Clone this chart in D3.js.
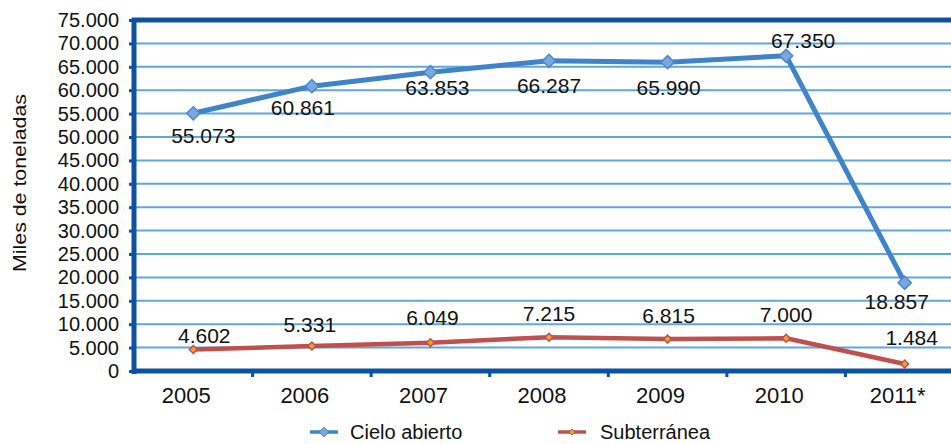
<!DOCTYPE html>
<html><head><meta charset="utf-8">
<script src="https://cdn.jsdelivr.net/npm/d3@7/dist/d3.min.js"></script>
<style>body{margin:0;background:#fff;overflow:hidden}svg{display:block;font-family:"Liberation Sans",Arial,sans-serif}</style>
</head><body><svg id="c" width="951" height="444"></svg>
<script>
const years = ["2005","2006","2007","2008","2009","2010","2011*"];
const cieloAbierto = [55073,60861,63853,66287,65990,67350,18857];
const subterranea = [4602,5331,6049,7215,6815,7000,1484];
const yTicks = [0,5000,10000,15000,20000,25000,30000,35000,40000,45000,50000,55000,60000,65000,70000,75000];
const seriesNames = ["Cielo abierto","Subterránea"];
// label placement (style): offsets of data labels from points
const cieloLabelDx = [10,-9,7,0,1,17,-8];
const cieloLabelDy = [22,21,15,25,25,-15,19];
const subLabelDx = [11,-2,2,0,1,0,7];
const subLabelDy = [-14,-22,-25,-24,-24,-24,-27];

const fmt = v => v===0 ? "0" : d3.format(",")(v).replace(/,/g,".");
const FONT = "Liberation Sans, Arial, sans-serif";
const svg = d3.select("#c");
const L=134, T=20, R=964, B=371;
const x = d3.scaleBand().domain(years).range([L,R]);
const y = d3.scaleLinear().domain([0,75000]).range([B,T]);
const cx = d => x(d)+x.bandwidth()/2;

// gridlines
svg.append("g").selectAll("line").data(yTicks.filter(t=>t>0)).join("line")
  .attr("x1",L).attr("x2",R).attr("y1",d=>y(d)).attr("y2",d=>y(d))
  .attr("stroke","#5ea7dd").attr("stroke-width",2);

// y axis
const ya = svg.append("g").attr("transform",`translate(${L},0)`)
  .call(d3.axisLeft(y).tickValues(yTicks).tickFormat(fmt).tickSize(5).tickPadding(10));
ya.select(".domain").remove();
ya.selectAll(".tick line").attr("stroke","#0b52a0").attr("stroke-width",3);
ya.selectAll("text").attr("font-size",20).attr("fill","#111").attr("font-family",FONT);

// x axis
const xa = svg.append("g").attr("transform",`translate(0,${B})`)
  .call(d3.axisBottom(x).tickSize(0).tickPadding(16));
xa.select(".domain").remove();
xa.selectAll("text").attr("font-size",22).attr("fill","#111").attr("dx",-7).attr("font-family",FONT);
// x tick marks at band boundaries
svg.append("g").selectAll("line").data(years.slice(1)).join("line")
  .attr("x1",d=>x(d)).attr("x2",d=>x(d)).attr("y1",B).attr("y2",B+6)
  .attr("stroke","#0b52a0").attr("stroke-width",3);

// frame
svg.append("line").attr("x1",L).attr("x2",R).attr("y1",B).attr("y2",B).attr("stroke","#0b52a0").attr("stroke-width",5);
svg.append("line").attr("x1",L-2).attr("x2",R).attr("y1",T).attr("y2",T).attr("stroke","#0b52a0").attr("stroke-width",5);
svg.append("line").attr("x1",L).attr("x2",L).attr("y1",T-2).attr("y2",B+3).attr("stroke","#0b52a0").attr("stroke-width",5);

// lines
const line = d3.line().x((d,i)=>cx(years[i])).y(d=>y(d));
svg.append("path").datum(subterranea).attr("d",line).attr("fill","none").attr("stroke","#c0504d").attr("stroke-width",4.5).attr("stroke-linejoin","round");
svg.append("g").selectAll("path").data(subterranea).join("path")
  .attr("d",d3.symbol(d3.symbolDiamond2,40)())
  .attr("transform",(d,i)=>`translate(${cx(years[i])},${y(d)})`)
  .attr("fill","#f0a030").attr("stroke","#c0504d").attr("stroke-width",1.5);

svg.append("path").datum(cieloAbierto).attr("d",line).attr("fill","none").attr("stroke","#3f84c9").attr("stroke-width",5).attr("stroke-linejoin","round");
svg.append("g").selectAll("path").data(cieloAbierto).join("path")
  .attr("d",d3.symbol(d3.symbolDiamond2,110)())
  .attr("transform",(d,i)=>`translate(${cx(years[i])},${y(d)})`)
  .attr("fill","#7aa8de").attr("stroke","#4a88cc").attr("stroke-width",1.5);

// data labels
svg.append("g").selectAll("text").data(cieloAbierto).join("text")
  .attr("x",(d,i)=>cx(years[i])+cieloLabelDx[i]).attr("y",(d,i)=>y(d)+cieloLabelDy[i])
  .attr("text-anchor","middle").attr("dominant-baseline","central")
  .attr("font-size",21).attr("fill","#111").text(fmt);
svg.append("g").selectAll("text").data(subterranea).join("text")
  .attr("x",(d,i)=>cx(years[i])+subLabelDx[i]).attr("y",(d,i)=>y(d)+subLabelDy[i])
  .attr("text-anchor","middle").attr("dominant-baseline","central")
  .attr("font-size",21).attr("fill","#111").text(fmt);

// y title
svg.append("text").attr("transform","translate(20,183) rotate(-90)")
  .attr("text-anchor","middle").attr("dominant-baseline","central")
  .attr("font-size",18).attr("textLength",178).attr("lengthAdjust","spacingAndGlyphs")
  .attr("fill","#111").text("Miles de toneladas");

// legend
const leg = [{name:seriesNames[0],c:"#3f84c9",f:"#7aa8de",x:310,s:60,tx:40},{name:seriesNames[1],c:"#c0504d",f:"#f0a030",x:558,s:24,tx:42}];
const lg = svg.append("g").selectAll("g").data(leg).join("g").attr("transform",d=>`translate(${d.x},432)`);
lg.append("line").attr("x1",0).attr("x2",28).attr("stroke",d=>d.c).attr("stroke-width",3.5);
lg.append("path").attr("d",d=>d3.symbol(d3.symbolDiamond2,d.s)()).attr("transform","translate(14,0)").attr("fill",d=>d.f).attr("stroke",d=>d.c);
lg.append("text").attr("x",d=>d.tx).attr("y",7).attr("font-size",20).attr("fill","#111").text(d=>d.name);
</script></body></html>
